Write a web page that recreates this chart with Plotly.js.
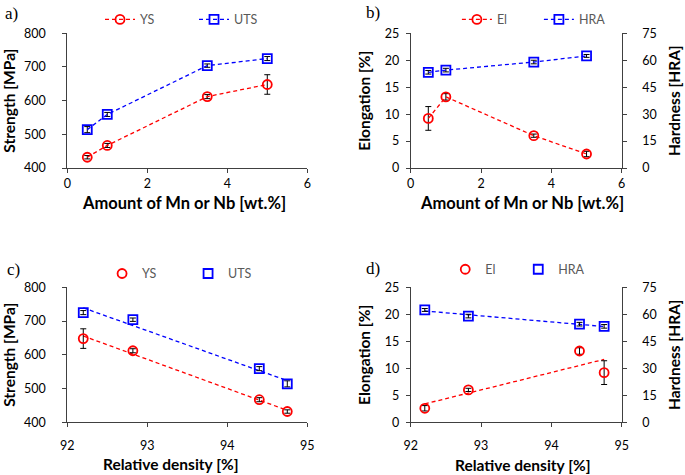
<!DOCTYPE html>
<html>
<head>
<meta charset="utf-8">
<script src="https://cdn.plot.ly/plotly-3.0.1.min.js"></script>
<style>
  html, body { margin: 0; padding: 0; background: #fff; }
  #chart { width: 685px; height: 475px; }
</style>
</head>
<body>
<div id="chart"></div>
<script>
// data, ordered by Mn/Nb content
const mnNb = [0.5, 1.0, 3.5, 5.0];
const density = [94.75, 94.4, 92.82, 92.2];

const ys = [432, 467, 612, 648];
const ysErr = [5, 6, 6, 29];
const uts = [514, 559, 704, 725];
const utsErr = [9, 6, 5, 6];

const el = [9.2, 13.2, 6.0, 2.6];
const elErr = [2.2, 0.6, 0.3, 0.5];
const hra = [53.3, 54.5, 59.0, 62.4];
const hraErr = [1.0, 1.0, 1.0, 0.8];

const RED = "#ff0000";
const BLUE = "#0000ff";
const FONT = "Lato, 'Open Sans', sans-serif";

// least squares line through the points, drawn between min and max x
function fitLine(xs, vals) {
  let n = xs.length;
  let mx = xs.reduce((a, b) => a + b, 0) / n;
  let my = vals.reduce((a, b) => a + b, 0) / n;
  let sxy = 0, sxx = 0;
  for (let i = 0; i < n; i++) {
    sxy += (xs[i] - mx) * (vals[i] - my);
    sxx += (xs[i] - mx) * (xs[i] - mx);
  }
  let slope = sxy / sxx;
  let x0 = Math.min(...xs), x1 = Math.max(...xs);
  return { x: [x0, x1], y: [my + slope * (x0 - mx), my + slope * (x1 - mx)] };
}

function errBar(arr) {
  return { type: "data", array: arr, visible: true, color: "#000", thickness: 1, width: 3 };
}

function series(name, x, y, err, color, symbol, xa, ya, legend, withLine) {
  return {
    type: "scatter",
    x: x, y: y,
    name: name,
    mode: withLine ? "lines+markers" : "markers",
    xaxis: xa, yaxis: ya,
    legend: legend,
    error_y: errBar(err),
    line: { color: color, width: 1.3, dash: "4px,3px" },
    marker: { color: color, size: 9, symbol: symbol, line: { color: color, width: 1.8 } },
  };
}

function trend(x, y, color, xa, ya) {
  let f = fitLine(x, y);
  return {
    type: "scatter", x: f.x, y: f.y, mode: "lines",
    xaxis: xa, yaxis: ya, showlegend: false, hoverinfo: "skip",
    line: { color: color, width: 1.3, dash: "4px,3px" },
  };
}

let traces = [
  // a)
  series("YS", mnNb, ys, ysErr, RED, "circle-open", "x", "y", "legend", true),
  series("UTS", mnNb, uts, utsErr, BLUE, "square-open", "x", "y", "legend", true),
  // b)
  series("El", mnNb, el, elErr, RED, "circle-open", "x2", "y2", "legend2", true),
  series("HRA", mnNb, hra, hraErr, BLUE, "square-open", "x2", "y3", "legend2", true),
  // c)
  trend(density, ys, RED, "x3", "y4"),
  trend(density, uts, BLUE, "x3", "y4"),
  series("YS", density, ys, ysErr, RED, "circle-open", "x3", "y4", "legend3", false),
  series("UTS", density, uts, utsErr, BLUE, "square-open", "x3", "y4", "legend3", false),
  // d)
  trend(density, el, RED, "x4", "y5"),
  trend(density, hra, BLUE, "x4", "y6"),
  series("El", density, el, elErr, RED, "circle-open", "x4", "y5", "legend4", false),
  series("HRA", density, hra, hraErr, BLUE, "square-open", "x4", "y6", "legend4", false),
];

const colL = [0.0982, 0.4486];
const colR = [0.5996, 0.9076];
const rowT = [0.6463, 0.9299];
const rowB = [0.1109, 0.3952];

const TITLE_FONT = { family: FONT, size: 15.5, color: "#000", weight: "bold" };
const XTITLE_FONT = { family: FONT, size: 16.5, color: "#000", weight: "bold" };
const TICK_FONT = { family: FONT, size: 12.5, color: "#000" };

function xAxis(domain, anchor, range, dtick, labelOff) {
  return {
    domain: domain, anchor: anchor, range: range, dtick: dtick,
    showgrid: false, zeroline: false,
    showline: true, linecolor: "#404040", linewidth: 1,
    ticks: "outside", ticklen: 4, tickcolor: "#404040",
    ticklabelstandoff: labelOff,
    tickfont: TICK_FONT,
  };
}

function yAxis(domain, anchor, range, dtick, title, labelOff, titleOff, side, overlaying) {
  let ax = {
    domain: domain, anchor: anchor, range: range, dtick: dtick,
    showgrid: false, zeroline: false,
    showline: true, linecolor: "#404040", linewidth: 1,
    ticks: "outside", ticklen: 4, tickcolor: "#404040",
    ticklabelstandoff: labelOff,
    tickfont: TICK_FONT,
    title: { text: title, standoff: titleOff, font: TITLE_FONT },
  };
  if (side) ax.side = side;
  if (overlaying) ax.overlaying = overlaying;
  return ax;
}

function legendAt(x, y, w) {
  return {
    orientation: "h", x: x, y: y, xanchor: "left", yanchor: "top",
    bgcolor: "rgba(0,0,0,0)", entrywidth: w,
    font: { family: FONT, size: 12.5, color: "#595959" },
  };
}

function panelLabel(text, x, y) {
  return {
    text: text, x: x, y: y, xref: "paper", yref: "paper",
    xanchor: "left", yanchor: "middle", showarrow: false,
    font: { family: "'Liberation Serif', 'Times New Roman', serif", size: 17, color: "#000" },
  };
}

function xTitle(text, x, y, size) {
  return {
    text: text, x: x, y: y, xref: "paper", yref: "paper",
    xanchor: "center", yanchor: "middle", showarrow: false,
    borderpad: 0,
    font: Object.assign({}, XTITLE_FONT, { size: size }),
  };
}

let layout = {
  width: 685, height: 475,
  margin: { l: 0, r: 0, t: 0, b: 0 },
  paper_bgcolor: "#fff", plot_bgcolor: "#fff",
  font: { family: FONT },
  xaxis: xAxis(colL, "y", [0, 6], 2, 0),
  yaxis: yAxis(rowT, "x", [400, 800], 100, "Strength [MPa]", 14, 8),
  xaxis2: xAxis(colR, "y2", [0, 6], 2, 0),
  yaxis2: yAxis(rowT, "x2", [0, 25], 5, "Elongation [%]", 4, 10),
  yaxis3: yAxis(rowT, "x2", [0, 75], 15, "Hardness [HRA]", 13, 13, "right", "y2"),
  xaxis3: xAxis(colL, "y4", [92, 95], 1, 8),
  yaxis4: yAxis(rowB, "x3", [400, 800], 100, "Strength [MPa]", 14, 8),
  xaxis4: xAxis(colR, "y5", [92, 95], 1, 8),
  yaxis5: yAxis(rowB, "x4", [0, 25], 5, "Elongation [%]", 4, 10),
  yaxis6: yAxis(rowB, "x4", [0, 75], 15, "Hardness [HRA]", 13, 13, "right", "y5"),
  legend: legendAt(0.146, 0.99, 49),
  legend2: legendAt(0.667, 0.99, 37),
  legend3: legendAt(0.149, 0.455, 41),
  legend4: legendAt(0.650, 0.464, 28),
  annotations: [
    panelLabel("a)", 0.004, 0.972),
    panelLabel("b)", 0.532, 0.974),
    panelLabel("c)", 0.008, 0.432),
    panelLabel("d)", 0.532, 0.434),
    xTitle("Amount of Mn or Nb [wt.%]", 0.2686, 0.5726, 16.5),
    xTitle("Amount of Mn or Nb [wt.%]", 0.7616, 0.5726, 16.5),
    xTitle("Relative density [%]", 0.2496, 0.0232, 15.5),
    xTitle("Relative density [%]", 0.7635, 0.0211, 15.5),
  ],
  showlegend: true,
};

Plotly.newPlot("chart", traces, layout, { displayModeBar: false, staticPlot: true });
</script>
</body>
</html>
